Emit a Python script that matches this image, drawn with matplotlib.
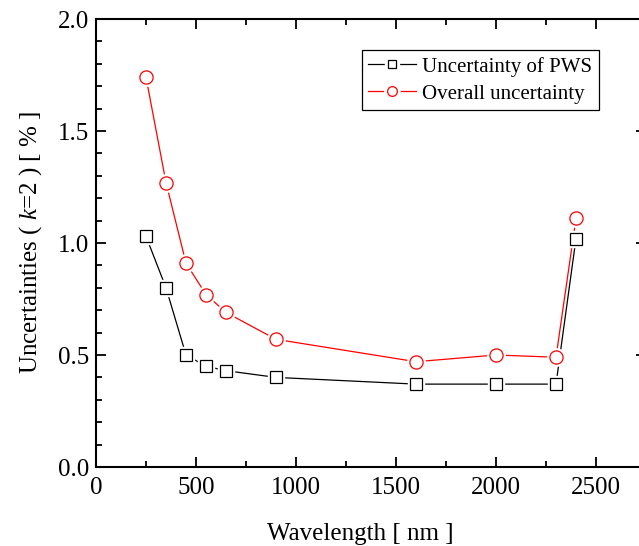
import matplotlib as mpl
mpl.use('Agg')
import matplotlib.pyplot as plt
from matplotlib.ticker import MultipleLocator
from matplotlib.legend_handler import HandlerTuple
from matplotlib.lines import Line2D

# values
wavelength = [250, 350, 450, 550, 650, 900, 1600, 2000, 2300, 2400]
u_pws = [1.03, 0.80, 0.50, 0.45, 0.43, 0.40, 0.37, 0.37, 0.37, 1.02]
u_overall = [1.74, 1.27, 0.91, 0.77, 0.69, 0.57, 0.47, 0.50, 0.49, 1.11]

plt.rcParams['font.family'] = 'Liberation Serif'
plt.rcParams['mathtext.fontset'] = 'custom'
plt.rcParams['mathtext.rm'] = 'Liberation Serif'
plt.rcParams['mathtext.it'] = 'Liberation Serif:italic'

fig = plt.figure(figsize=(6.39, 5.46), dpi=100)
# the right spine sits just outside the picture, as in the reference
ax = fig.add_axes([96 / 639, 79 / 546, 550 / 639, 448 / 546])


def series(x, y, color, marker, ms):
    # line, white halo for the gap, then the open marker
    ax.plot(x, y, '-', color=color, lw=0.9, zorder=2)
    ax.plot(x, y, linestyle='none', marker=marker, ms=ms + 3,
            mfc='white', mec='white', zorder=3)
    ax.plot(x, y, linestyle='none', marker=marker, ms=ms,
            mfc='white', mec=color, mew=0.9, zorder=4)


def legend_handle(color, marker, ms):
    line = Line2D([], [], color=color, lw=0.9)
    halo = Line2D([], [], linestyle='none', marker=marker, ms=ms + 4,
                  mfc='white', mec='white')
    mk = Line2D([], [], linestyle='none', marker=marker, ms=ms,
                mfc='white', mec=color, mew=0.9)
    return (line, halo, mk)


series(wavelength, u_pws, 'black', 's', 8.5)
series(wavelength, u_overall, 'red', 'o', 9.5)

ax.set_xlim(0, 2750)
ax.set_ylim(0, 2.0)
ax.xaxis.set_major_locator(MultipleLocator(500))
ax.xaxis.set_minor_locator(MultipleLocator(250))
ax.yaxis.set_major_locator(MultipleLocator(0.5))
ax.yaxis.set_minor_locator(MultipleLocator(0.1))
ax.yaxis.set_major_formatter(mpl.ticker.FormatStrFormatter('%.1f'))

for s in ax.spines.values():
    s.set_linewidth(1.5)
ax.tick_params(which='both', direction='in', top=True, right=True,
               width=1.3, labelsize=18)
ax.tick_params(which='major', length=7)
ax.tick_params(which='minor', length=4)
ax.tick_params(axis='x', pad=7)
ax.tick_params(axis='y', pad=5)

# x label centred a bit left of the axes centre, as in the reference
ax.set_xlabel('Wavelength [ nm ]', fontsize=18)
ax.xaxis.set_label_coords((360 - 96) / 550, (6 - 79) / 448)
ax.xaxis.label.set_va('baseline')
ax.set_ylabel('Uncertainties ( $\\mathit{k}$=2 ) [ % ]', fontsize=18, labelpad=10)

leg = fig.legend([legend_handle('black', 's', 6), legend_handle('red', 'o', 7)],
                 ['Uncertainty of PWS', 'Overall uncertainty'],
                 handler_map={tuple: HandlerTuple(ndivide=1, pad=0)},
                 loc='upper right', bbox_to_anchor=(599 / 639, 496 / 546),
                 fontsize=15, frameon=True, fancybox=False, framealpha=1,
                 edgecolor='black', handlelength=2.3, handletextpad=0.3,
                 borderpad=0.32, labelspacing=0.36, borderaxespad=0)
leg.get_frame().set_linewidth(0.9)

fig.savefig('out.png', dpi=100)
